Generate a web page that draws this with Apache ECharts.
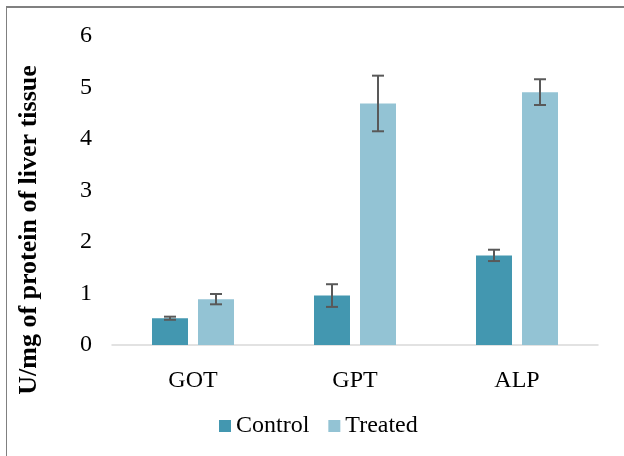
<!DOCTYPE html>
<html>
<head>
<meta charset="utf-8">
<script src="https://cdn.jsdelivr.net/npm/echarts@6/dist/echarts.min.js"></script>
<style>
html,body{margin:0;padding:0;background:#fff;}
#c{width:624px;height:456px;}
</style>
</head>
<body>
<div id="c"></div>
<script>
const categories = ['GOT', 'GPT', 'ALP'];
const controlValues = [0.52, 0.96, 1.74];
const controlErrors = [0.03, 0.22, 0.11];
const treatedValues = [0.89, 4.69, 4.91];
const treatedErrors = [0.10, 0.54, 0.25];
const yTicks = [0, 1, 2, 3, 4, 5, 6];
const yAxisTitle = 'U/mg of protein of liver tissue';

const FONT = '"Liberation Serif", "Times New Roman", serif';
const BAR_W = 36, GAP = 10;

function errData(vals, errs) {
  return vals.map((v, i) => [i, v - errs[i], v + errs[i]]);
}
function errRender(offset) {
  return function (params, api) {
    const i = api.value(0);
    const lo = api.coord([i, api.value(1)]);
    const hi = api.coord([i, api.value(2)]);
    const x = lo[0] + offset;
    const cap = 6;
    const style = { stroke: '#595959', lineWidth: 2 };
    return {
      type: 'group',
      children: [
        { type: 'line', shape: { x1: x, y1: lo[1], x2: x, y2: hi[1] }, style },
        { type: 'line', shape: { x1: x - cap, y1: lo[1], x2: x + cap, y2: lo[1] }, style },
        { type: 'line', shape: { x1: x - cap, y1: hi[1], x2: x + cap, y2: hi[1] }, style }
      ]
    };
  };
}

const chart = echarts.init(document.getElementById('c'), null, { renderer: 'canvas' });
const off = BAR_W / 2 + GAP / 2;
chart.setOption({
  animation: false,
  backgroundColor: '#fff',
  textStyle: { fontFamily: FONT },
  grid: { left: 112, right: 26, top: 36, bottom: 111, containLabel: false },
  legend: {
    data: ['Control', 'Treated'],
    top: 409,
    left: 214,
    itemWidth: 12, itemHeight: 12, itemGap: 19,
    icon: 'rect',
    textStyle: { fontFamily: FONT, fontSize: 24, color: '#000' }
  },
  xAxis: {
    type: 'category',
    data: categories,
    axisLine: { lineStyle: { color: '#d9d9d9', width: 1.5 } },
    axisTick: { show: false },
    axisLabel: { fontFamily: FONT, fontSize: 24, color: '#000', margin: 24 }
  },
  yAxis: {
    type: 'value',
    min: 0, max: 6, interval: 1,
    axisLine: { show: false },
    axisTick: { show: false },
    splitLine: { show: false },
    axisLabel: { fontFamily: FONT, fontSize: 24, color: '#000', margin: 20,
      formatter: v => yTicks.includes(v) ? String(v) : '' }
  },
  series: [
    { name: 'Control', type: 'bar', data: controlValues, barWidth: BAR_W, barGap: (GAP / BAR_W * 100) + '%',
      itemStyle: { color: '#4397b0' } },
    { name: 'Treated', type: 'bar', data: treatedValues, barWidth: BAR_W,
      itemStyle: { color: '#93c3d4' } },
    { type: 'custom', renderItem: errRender(-off), data: errData(controlValues, controlErrors), z: 10,
      encode: { x: 0, y: [1, 2] } },
    { type: 'custom', renderItem: errRender(off), data: errData(treatedValues, treatedErrors), z: 10,
      encode: { x: 0, y: [1, 2] } }
  ],
  graphic: [
    { type: 'line', shape: { x1: 6, y1: 7, x2: 624, y2: 7 }, style: { stroke: '#808080', lineWidth: 2 } },
    { type: 'line', shape: { x1: 6.5, y1: 6, x2: 6.5, y2: 456 }, style: { stroke: '#808080', lineWidth: 1 } },
    { type: 'text', x: 29, y: 230, rotation: Math.PI / 2,
      style: { text: yAxisTitle, font: 'bold 26px ' + FONT, fill: '#000', align: 'center', verticalAlign: 'middle' } }
  ]
});
</script>
</body>
</html>
